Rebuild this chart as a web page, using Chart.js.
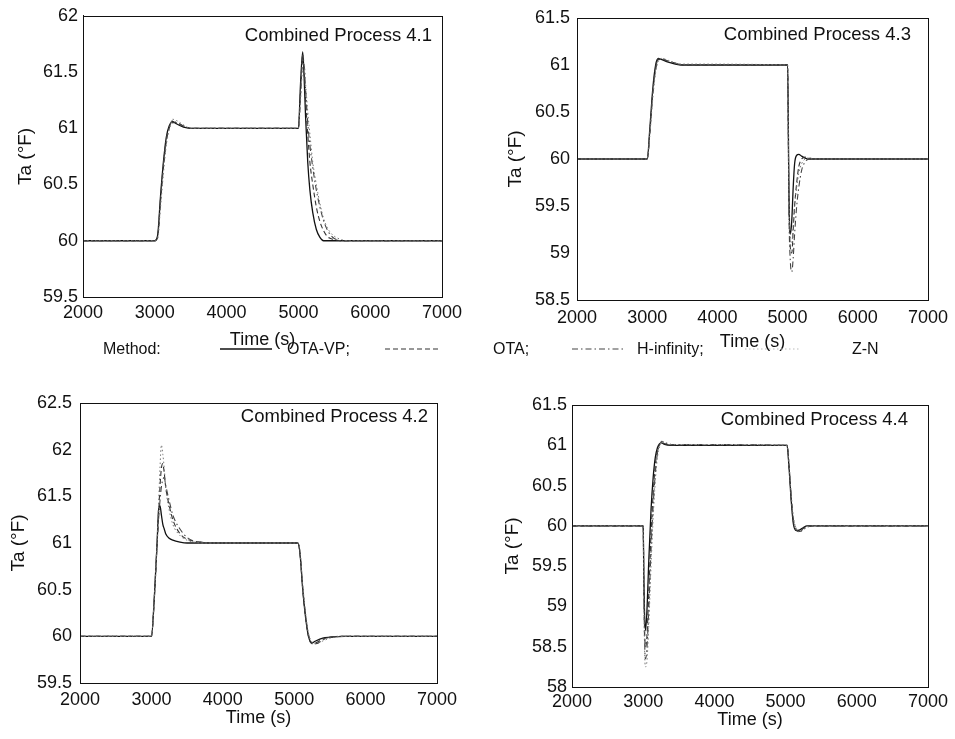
<!DOCTYPE html>
<html>
<head>
<meta charset="utf-8">
<script src="https://cdn.jsdelivr.net/npm/chart.js@4/dist/chart.umd.min.js"></script>
<style>
  html, body { margin: 0; padding: 0; background: #fff; }
  body { width: 955px; height: 739px; position: relative; overflow: hidden; font-family: "Liberation Sans", Arial, sans-serif; color: #111; }
  canvas { position: absolute; }
  .lg { position: absolute; font-size: 16px; line-height: 18px; top: 340px; white-space: nowrap; }
  svg.ls { position: absolute; top: 342px; }
</style>
</head>
<body>
<canvas id="c1" width="470" height="358" style="left:0px;top:0px;width:470px;height:358px"></canvas>
<canvas id="c3" width="475" height="358" style="left:480px;top:0px;width:475px;height:358px"></canvas>
<canvas id="c2" width="470" height="369" style="left:0px;top:370px;width:470px;height:369px"></canvas>
<canvas id="c4" width="475" height="369" style="left:480px;top:370px;width:475px;height:369px"></canvas>

<div class="lg" style="left:103px">Method:</div>
<svg class="ls" style="left:220px" width="52" height="14"><line x1="0" y1="7" x2="52" y2="7" stroke="#111" stroke-width="1.3"/></svg>
<div class="lg" style="left:287px">OTA-VP;</div>
<svg class="ls" style="left:385px" width="56" height="14"><line x1="0" y1="7" x2="56" y2="7" stroke="#333" stroke-width="1.1" stroke-dasharray="5,3"/></svg>
<div class="lg" style="left:493px">OTA;</div>
<svg class="ls" style="left:572px" width="52" height="14"><line x1="0" y1="7" x2="52" y2="7" stroke="#444" stroke-width="1.1" stroke-dasharray="6,3,1.5,3"/></svg>
<div class="lg" style="left:637px">H-infinity;</div>
<svg class="ls" style="left:745px" width="56" height="14"><line x1="0" y1="7" x2="56" y2="7" stroke="#bbb" stroke-width="1" stroke-dasharray="1.5,2.5"/></svg>
<div class="lg" style="left:852px">Z-N</div>

<script>
// ---------------- DATA ----------------
const seriesNames = ['OTA-VP', 'OTA', 'H-infinity', 'Z-N'];
const xTicks = [2000, 3000, 4000, 5000, 6000, 7000];

// Combined Process 4.1
const time41 = [2000,3000,3040,3080,3120,3160,3200,3250,3300,3400,3500,5000,5030,5060,5080,5100,5130,5160,5200,5250,5300,5350,5400,5450,5500,5600,5700,7000];
const otavp41 = [60,60,60.05,60.4,60.7,60.92,61.02,61.06,61.04,61.01,61,61,61.4,61.68,61.45,61.1,60.7,60.45,60.25,60.1,60.03,60.0,60,60,60,60,60,60];
const ota41   = [60,60,60.03,60.35,60.65,60.88,61.0,61.05,61.05,61.02,61,61,61.3,61.6,61.5,61.25,60.95,60.7,60.5,60.3,60.17,60.09,60.04,60.02,60.01,60,60,60];
const hinf41  = [60,60,60.04,60.38,60.68,60.9,61.01,61.07,61.05,61.02,61,61,61.35,61.65,61.55,61.35,61.05,60.85,60.65,60.45,60.3,60.18,60.1,60.05,60.02,60,60,60];
const zn41    = [60,60,60.02,60.3,60.6,60.85,60.98,61.08,61.07,61.03,61,61,61.25,61.55,61.58,61.4,61.15,60.95,60.7,60.5,60.33,60.2,60.12,60.07,60.04,60.01,60,60];
const yTicks41 = [59.5, 60, 60.5, 61, 61.5, 62];

// Combined Process 4.3
const time43 = [2000,3000,3040,3080,3120,3160,3200,3300,3400,3500,5000,5020,5040,5060,5080,5100,5130,5160,5200,5250,5300,5350,5400,5500,7000];
const otavp43 = [60,60,60.35,60.75,61.0,61.07,61.06,61.03,61.01,61,61,59.6,59.2,59.35,59.7,59.95,60.04,60.05,60.03,60.01,60,60,60,60,60];
const ota43   = [60,60,60.3,60.7,60.95,61.06,61.06,61.04,61.02,61,61,59.5,59.05,59.0,59.25,59.5,59.75,59.92,60.0,60.02,60.01,60,60,60,60];
const hinf43  = [60,60,60.32,60.72,60.97,61.06,61.07,61.04,61.02,61,61,59.4,58.9,58.8,58.95,59.2,59.5,59.7,59.88,59.97,60.0,60.01,60,60,60];
const zn43    = [60,60,60.28,60.65,60.92,61.04,61.07,61.05,61.02,61.01,61,59.55,59.15,59.1,59.3,59.5,59.7,59.85,59.95,60.0,60.01,60,60,60,60];
const yTicks43 = [58.5, 59, 59.5, 60, 60.5, 61, 61.5];

// Combined Process 4.2
const time42 = [2000,3000,3040,3080,3100,3120,3140,3160,3180,3200,3250,3300,3400,3500,3600,3700,3800,5050,5080,5120,5160,5200,5250,5300,5400,5500,5700,7000];
const otavp42 = [60,60,60.4,61.0,61.35,61.4,61.3,61.2,61.15,61.1,61.05,61.03,61.01,61,61,61,61,61,60.9,60.5,60.2,60.0,59.93,59.95,59.98,59.99,60,60];
const ota42   = [60,60,60.4,61.0,61.3,61.6,61.8,61.85,61.75,61.6,61.4,61.25,61.1,61.04,61.02,61.01,61,61,60.9,60.5,60.2,60.0,59.92,59.93,59.97,59.99,60,60];
const hinf42  = [60,60,60.4,61.0,61.25,61.45,61.6,61.68,61.7,61.62,61.45,61.3,61.15,61.06,61.02,61.01,61,61,60.9,60.52,60.22,60.02,59.93,59.92,59.96,59.99,60,60];
const zn42    = [60,60,60.4,61.0,61.4,61.8,62.05,61.95,61.8,61.6,61.35,61.2,61.08,61.03,61.01,61,61,61,60.92,60.55,60.25,60.03,59.94,59.92,59.95,59.98,60,60];
const yTicks42 = [59.5, 60, 60.5, 61, 61.5, 62, 62.5];

// Combined Process 4.4
const time44 = [2000,3000,3010,3030,3050,3080,3110,3140,3170,3200,3230,3260,3300,3400,5020,5050,5080,5110,5150,5200,5250,5300,5400,7000];
const otavp44 = [60,60,59.3,58.7,58.9,59.6,60.2,60.6,60.85,60.97,61.02,61.03,61.01,61,61,60.7,60.3,60.02,59.94,59.95,59.98,60,60,60];
const ota44   = [60,60,59.2,58.5,58.6,59.2,59.9,60.4,60.75,60.93,61.01,61.04,61.02,61,61,60.72,60.32,60.05,59.95,59.93,59.97,59.99,60,60];
const hinf44  = [60,60,59.1,58.35,58.45,59.0,59.7,60.25,60.65,60.9,61.0,61.05,61.03,61.01,61,60.72,60.35,60.08,59.96,59.93,59.96,59.99,60,60];
const zn44    = [60,60,59.0,58.25,58.3,58.8,59.5,60.1,60.55,60.85,60.98,61.05,61.04,61.01,61,60.74,60.38,60.1,59.97,59.92,59.95,59.98,60,60];
const yTicks44 = [58, 58.5, 59, 59.5, 60, 60.5, 61, 61.5];

// ---------------- STYLE / BUILD ----------------
const FONT = '"Liberation Sans", Arial, sans-serif';
const lineStyles = [
  { borderColor: '#111', borderWidth: 1.3, borderDash: [] },
  { borderColor: '#333', borderWidth: 1.1, borderDash: [5, 3] },
  { borderColor: '#444', borderWidth: 1.1, borderDash: [6, 3, 1.5, 3] },
  { borderColor: '#777', borderWidth: 1.0, borderDash: [1.5, 2.5] }
];

const framePlugin = {
  id: 'frame',
  afterDraw(chart, args, opts) {
    const { ctx, chartArea: a } = chart;
    ctx.save();
    ctx.strokeStyle = '#111';
    ctx.lineWidth = 1;
    ctx.strokeRect(Math.round(a.left) + 0.5, Math.round(a.top) + 0.5, Math.round(a.right - a.left), Math.round(a.bottom - a.top));
    ctx.fillStyle = '#111';
    ctx.font = '18.5px ' + FONT;
    ctx.textAlign = 'right';
    ctx.textBaseline = 'middle';
    ctx.fillText(opts.text, a.right - opts.dx, a.top + opts.dy);
    ctx.restore();
  }
};

function makeChart(id, title, times, seriesVals, yTicks, lay) {
  const datasets = seriesVals.map((vals, k) => Object.assign({
    label: seriesNames[k],
    data: times.map((t, i) => ({ x: t, y: vals[i] })),
    pointRadius: 0,
    fill: false,
    cubicInterpolationMode: 'monotone'
  }, lineStyles[k])).reverse();
  new Chart(document.getElementById(id), {
    type: 'line',
    data: { datasets },
    plugins: [framePlugin],
    options: {
      responsive: false,
      animation: false,
      events: [],
      layout: { padding: { top: lay.top, right: lay.right, left: 0, bottom: 0 } },
      plugins: {
        legend: { display: false },
        tooltip: { enabled: false },
        frame: { text: title, dx: lay.tdx, dy: lay.tdy }
      },
      scales: {
        x: {
          type: 'linear',
          min: xTicks[0], max: xTicks[xTicks.length - 1],
          afterBuildTicks: s => { s.ticks = xTicks.map(v => ({ value: v })); },
          afterFit: s => { s.height = lay.xh; },
          grid: { display: false, drawTicks: false },
          border: { display: true, color: '#111' },
          ticks: { color: '#111', font: { family: FONT, size: 18 }, padding: lay.xtp, maxRotation: 0, callback: v => String(v) },
          title: { display: true, text: 'Time (s)', color: '#111', font: { family: FONT, size: 18 }, padding: { top: 0, bottom: lay.xtb } }
        },
        y: {
          type: 'linear',
          min: yTicks[0], max: yTicks[yTicks.length - 1],
          afterBuildTicks: s => { s.ticks = yTicks.map(v => ({ value: v })); },
          afterFit: s => { s.width = lay.yw; },
          grid: { display: false, drawTicks: false },
          border: { display: true, color: '#111' },
          ticks: { color: '#111', font: { family: FONT, size: 18 }, padding: lay.ytp, callback: v => String(v) },
          title: { display: true, text: 'Ta (°F)', color: '#111', font: { family: FONT, size: 19 }, padding: { top: lay.ytt, bottom: 0 } }
        }
      }
    }
  });
}

makeChart('c1', 'Combined Process 4.1', time41, [otavp41, ota41, hinf41, zn41], yTicks41,
  { top: 15, right: 28, xh: 61, yw: 83, xtp: 5, xtb: 7, ytp: 5, ytt: 14, tdx: 10, tdy: 20 });
makeChart('c3', 'Combined Process 4.3', time43, [otavp43, ota43, hinf43, zn43], yTicks43,
  { top: 18, right: 25, xh: 58, yw: 97, xtp: 7, xtb: 5, ytp: 7, ytt: 24, tdx: 17, tdy: 17 });
makeChart('c2', 'Combined Process 4.2', time42, [otavp42, ota42, hinf42, zn42], yTicks42,
  { top: 33, right: 33, xh: 56, yw: 80, xtp: 6, xtb: 10, ytp: 8, ytt: 7, tdx: 9, tdy: 14 });
makeChart('c4', 'Combined Process 4.4', time44, [otavp44, ota44, hinf44, zn44], yTicks44,
  { top: 35, right: 27, xh: 52, yw: 92, xtp: 4, xtb: 8, ytp: 5, ytt: 21, tdx: 20, tdy: 15 });
</script>
</body>
</html>
